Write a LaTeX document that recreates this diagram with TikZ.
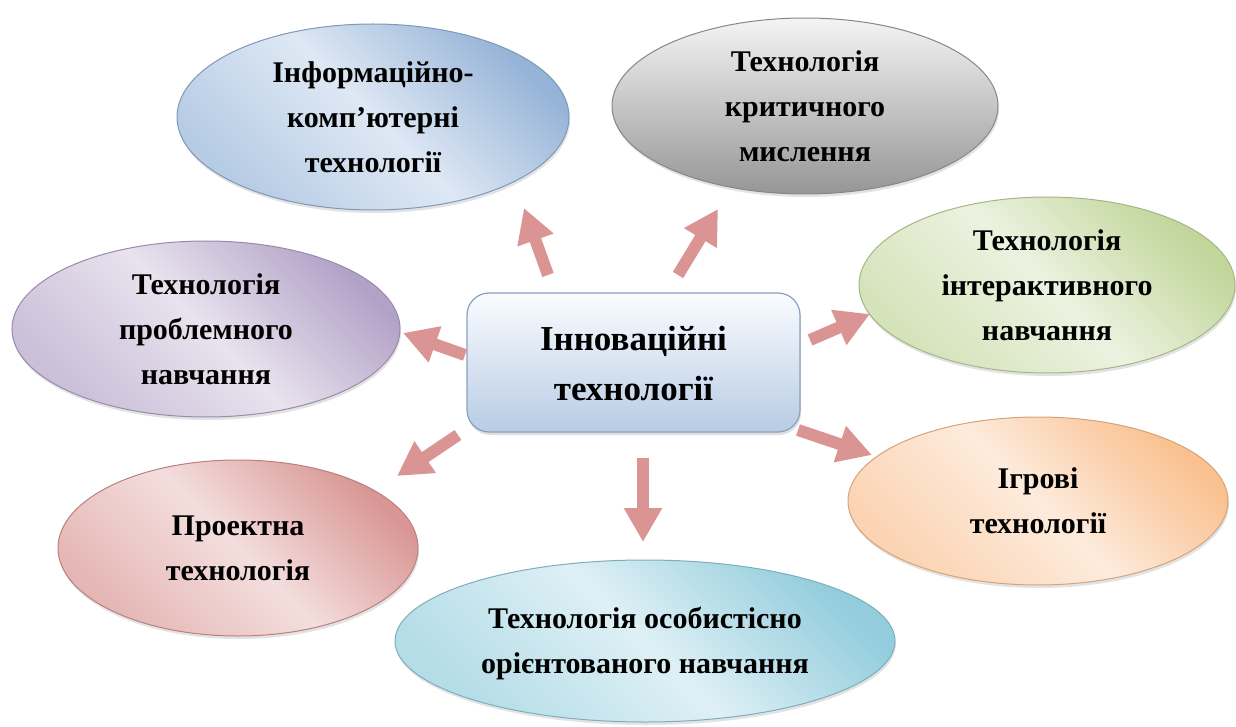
\documentclass[tikz,border=0pt]{standalone}
\usepackage{fontspec}
\setmainfont{Liberation Serif}
\usetikzlibrary{shapes.geometric,arrows.meta,shadows}
\definecolor{blueE}{RGB}{149,179,215}
\definecolor{blueL}{RGB}{222,232,244}
\definecolor{grayT}{RGB}{244,244,244}
\definecolor{grayB}{RGB}{150,150,150}
\definecolor{greenE}{RGB}{194,214,155}
\definecolor{greenL}{RGB}{236,242,224}
\definecolor{orangeE}{RGB}{250,192,144}
\definecolor{orangeL}{RGB}{253,235,220}
\definecolor{cyanE}{RGB}{147,205,221}
\definecolor{cyanL}{RGB}{222,240,245}
\definecolor{redE}{RGB}{217,150,148}
\definecolor{redL}{RGB}{243,222,221}
\definecolor{purpleE}{RGB}{179,162,199}
\definecolor{purpleL}{RGB}{232,227,238}
\definecolor{boxT}{RGB}{250,252,255}
\definecolor{boxB}{RGB}{184,204,228}
\definecolor{arrowc}{RGB}{218,148,148}
\newcommand\etx[1]{\raisebox{-0.25em}[0pt][0pt]{\begin{tabular}{@{}c@{}}#1\end{tabular}}}
\begin{document}
\begin{tikzpicture}[x=1pt,y=-1pt,
  oval/.style={ellipse, inner sep=0pt, outer sep=0pt, line width=1pt,
    font=\bfseries\fontsize{30}{45}\selectfont,
    drop shadow={shadow xshift=1pt, shadow yshift=-3pt, opacity=0.22}},
  tint/.style 2 args={draw=#1!85!black, left color=#1!55!#2, right color=#1, middle color=#2, shading angle=135},
  hub/.style={rectangle, rounded corners=22pt, inner sep=0pt, line width=1.2pt,
    draw=blueE!90!black, top color=boxT, bottom color=boxB,
    minimum width=333pt, minimum height=139pt,
    font=\bfseries\fontsize{35}{50}\selectfont,
    drop shadow={shadow xshift=1pt, shadow yshift=-3pt, opacity=0.25}},
  arr/.style={draw=arrowc, line width=12pt, -{Triangle[length=34pt,width=36pt]}}]
\useasboundingbox (0,0) rectangle (1236,727);

\node[oval, tint={blueE}{blueL}, minimum width=392pt, minimum height=186pt] (info) at (373,117)
  {\etx{Інформаційно-\\комп’ютерні\\технології}};
\node[oval, draw=grayB!90!black, top color=grayT, bottom color=grayB, minimum width=386pt, minimum height=176pt] (crit) at (805,106)
  {\etx{Технологія\\критичного\\мислення}};
\node[oval, tint={greenE}{greenL}, minimum width=376pt, minimum height=176pt] (inter) at (1047,285)
  {\etx{Технологія\\інтерактивного\\навчання}};
\node[oval, tint={orangeE}{orangeL}, minimum width=380pt, minimum height=168pt] (game) at (1038,501)
  {\etx{Ігрові\\технології}};
\node[oval, tint={cyanE}{cyanL}, minimum width=500pt, minimum height=162pt] (pers) at (645,641)
  {\etx{Технологія особистісно\\орієнтованого навчання}};
\node[oval, tint={redE}{redL}, minimum width=360pt, minimum height=176pt] (proj) at (238,548)
  {\etx{Проектна\\технологія}};
\node[oval, tint={purpleE}{purpleL}, minimum width=388pt, minimum height=176pt] (prob) at (206,329)
  {\etx{Технологія\\проблемного\\навчання}};

\node[hub] (hubn) at (633.5,362.5) {\etx{Інноваційні\\технології}};

\coordinate (a1s) at (548,275); \coordinate (a1e) at (524,208);
\coordinate (a2s) at (678,275); \coordinate (a2e) at (718,209);
\coordinate (a3s) at (465,355); \coordinate (a3e) at (403,333);
\coordinate (a4s) at (810,340); \coordinate (a4e) at (870,314);
\coordinate (a5s) at (798,430); \coordinate (a5e) at (872,455);
\coordinate (a6s) at (458,435); \coordinate (a6e) at (397,476);
\coordinate (a7s) at (643,458); \coordinate (a7e) at (643,542);
\foreach \i in {1,...,7} \draw[arr] (a\i s) -- (a\i e);
\end{tikzpicture}
\end{document}
